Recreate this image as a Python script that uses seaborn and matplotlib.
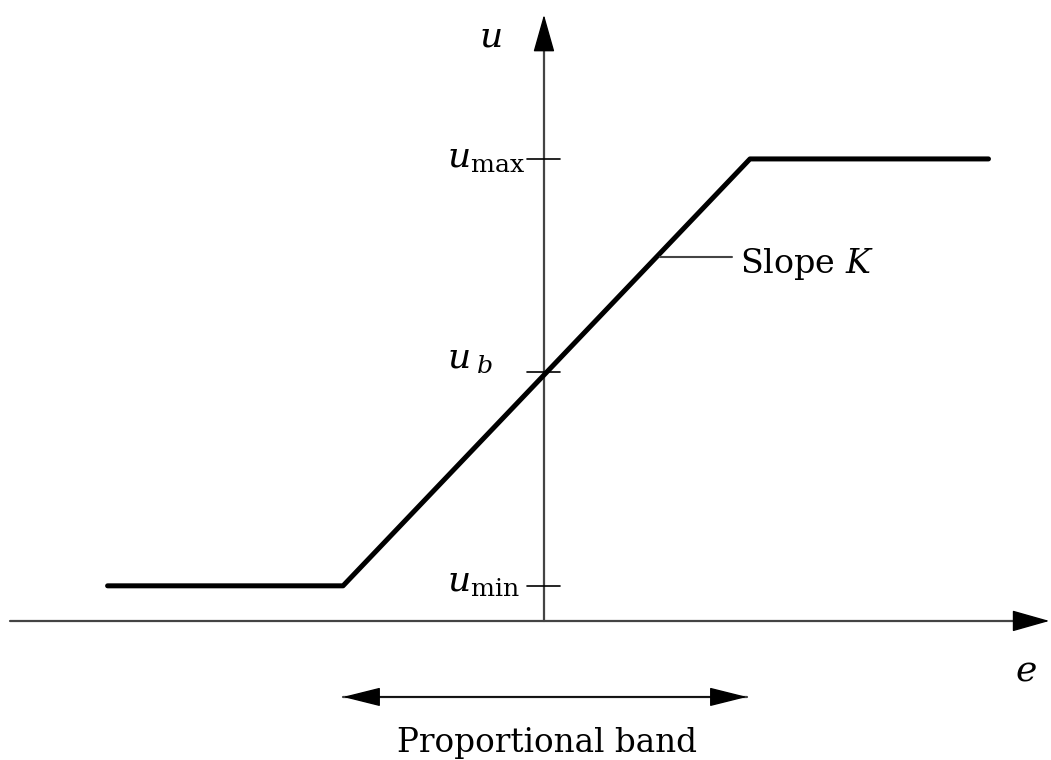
import matplotlib
matplotlib.use('Agg')
import matplotlib.pyplot as plt
import seaborn as sns
import pandas as pd

# saturation characteristic of a proportional controller
e_vals = [-2.15, -0.99, 1.015, 2.19]
u_min = 0.076
u_b = 0.539
u_max = 1.0
u_vals = [u_min, u_min, u_max, u_max]

tick_levels = [u_max, u_b, u_min]
tick_labels = [r'$u_{\mathrm{max}}$', r'$u_{\;b}$', r'$u_{\mathrm{min}}$']
label_offsets = [-0.017, 0.009, -0.013]

band = [-0.99, 1.0]

sns.set_style('white')
plt.rcParams['font.family'] = ['DejaVu Serif']
plt.rcParams['mathtext.fontset'] = 'dejavuserif'
plt.rcParams['text.color'] = 'black'

df = pd.DataFrame({'e': e_vals, 'u': u_vals})

fig = plt.figure(figsize=(10.51, 7.6), dpi=100)
ax = fig.add_axes([0, 0, 1, 1])

axis_col = '#444444'
head = dict(arrowstyle='-|>,head_length=1.2,head_width=0.34',
            mutation_scale=20, shrinkA=0, shrinkB=0, color='black', lw=1.0)

# axes: grey shafts, black arrow heads
ax.plot([-2.63, 2.40], [0, 0], color=axis_col, lw=1.6)
ax.plot([0, 0], [0, 1.25], color=axis_col, lw=1.6)
ax.annotate('', xy=(2.49, 0), xytext=(2.35, 0), arrowprops=head)
ax.annotate('', xy=(0, 1.312), xytext=(0, 1.24), arrowprops=head)

# the curve
sns.lineplot(data=df, x='e', y='u', color='black', lw=3.6, sort=False,
             estimator=None, ax=ax)

# tick marks and labels on the u axis
for lev, lab, off in zip(tick_levels, tick_labels, label_offsets):
    ax.plot([-0.084, 0.079], [lev, lev], color='black', lw=1.2)
    ax.text(-0.478, lev + off, lab, fontsize=26, ha='left', va='baseline')

ax.text(-0.266, 1.264, r'$u$', fontsize=26, ha='center', va='center')
ax.text(2.374, -0.108, r'$e$', fontsize=26, ha='center', va='center')

# slope label
ax.plot([0.571, 0.926], [0.788, 0.788], color=axis_col, lw=1.5)
ax.text(0.966, 0.753, r'Slope $K$', fontsize=24, ha='left', va='baseline')

# proportional band
band_head = dict(arrowstyle='<|-|>,head_length=1.2,head_width=0.3',
                 mutation_scale=20, shrinkA=0, shrinkB=0, color='black', lw=1.0)
ax.plot(band, [-0.1645, -0.1645], color=axis_col, lw=1.6)
ax.annotate('', xy=(band[1], -0.1645), xytext=(band[0], -0.1645),
            arrowprops=band_head)
ax.text(0.015, -0.2835, 'Proportional band', fontsize=23.5, ha='center',
        va='baseline')

ax.set_xlim(-2.680, 2.498)
ax.set_ylim(-0.301, 1.344)
ax.set_xlabel('')
ax.set_ylabel('')
ax.axis('off')

fig.savefig('out.png', dpi=100)
